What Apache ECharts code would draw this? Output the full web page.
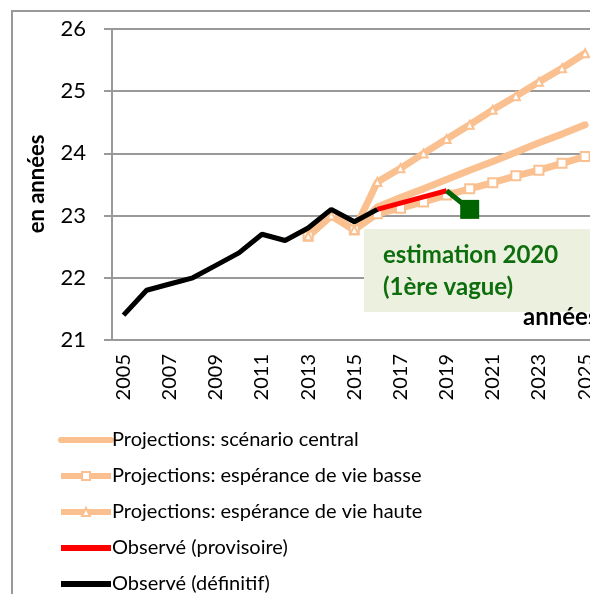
<!DOCTYPE html>
<html>
<head>
<meta charset="utf-8">
<script src="https://cdn.jsdelivr.net/npm/echarts@6/dist/echarts.min.js"></script>
<style>
  html, body { margin: 0; padding: 0; background: #fff; }
  #chart { width: 590px; height: 594px; }
</style>
</head>
<body>
<div id="chart"></div>
<script>
// years shown on the axis (the plot runs past the right edge)
const years = ['2005','2006','2007','2008','2009','2010','2011','2012','2013','2014','2015','2016','2017','2018','2019','2020','2021','2022','2023','2024','2025','2026','2027','2028','2029','2030'];

const observeDefinitif = [21.4, 21.8, 21.9, 22.0, 22.2, 22.4, 22.7, 22.6, 22.8, 23.1, 22.9, 23.1];
const observeProvisoire = [null, null, null, null, null, null, null, null, null, null, null, 23.1, 23.2, 23.3, 23.4];
const estimation2020 = [null, null, null, null, null, null, null, null, null, null, null, null, null, null, 23.4, 23.1];
const projCentral = [null, null, null, null, null, null, null, null, 22.67, 23.0, 22.77, 23.14, 23.29, 23.43, 23.58, 23.73, 23.87, 24.02, 24.17, 24.31, 24.46];
const projBasse = [null, null, null, null, null, null, null, null, 22.67, 23.0, 22.77, 23.03, 23.12, 23.22, 23.33, 23.43, 23.53, 23.64, 23.73, 23.84, 23.95];
const projHaute = [null, null, null, null, null, null, null, null, 22.67, 23.0, 22.77, 23.54, 23.76, 24.0, 24.23, 24.46, 24.7, 24.92, 25.15, 25.37, 25.61];

const peach = '#FAC090';
const font = 'Lato, "Noto Sans", sans-serif';

const chart = echarts.init(document.getElementById('chart'));
chart.setOption({
  animation: false,
  textStyle: { fontFamily: font },
  // the plot area runs past the right edge of the picture, like the source
  grid: { left: 112, top: 29, bottom: 254, width: 600, containLabel: false, outerBoundsMode: 'none' },
  legend: {
    orient: 'vertical',
    left: 58,
    top: 429,
    height: 300,
    padding: 0,
    itemWidth: 50,
    itemHeight: 10,
    itemGap: 14,
    lineStyle: { width: 6 },
    textStyle: { fontSize: 20, color: '#000', lineHeight: 22, padding: [0, 0, 0, -4] },
    data: [
      { name: 'Projections: scénario central', itemStyle: { opacity: 0 } },
      'Projections: espérance de vie basse',
      'Projections: espérance de vie haute',
      { name: 'Observé (provisoire)', itemStyle: { opacity: 0 } },
      { name: 'Observé (définitif)', itemStyle: { opacity: 0 } }
    ]
  },
  xAxis: {
    type: 'category',
    data: years,
    boundaryGap: true,
    axisLine: { lineStyle: { color: '#999', width: 2 } },
    axisTick: { interval: 4, length: 7, lineStyle: { color: '#999', width: 2 } },
    axisLabel: { interval: 1, rotate: 90, fontSize: 20, color: '#000', margin: 14 },
    splitLine: { show: false }
  },
  yAxis: {
    type: 'value',
    min: 21,
    max: 26,
    interval: 1,
    axisLine: { show: true, lineStyle: { color: '#999', width: 2 } },
    axisTick: { show: true, length: 8, lineStyle: { color: '#999', width: 2 } },
    axisLabel: { fontSize: 22, color: '#000', margin: 26 },
    splitLine: { lineStyle: { color: '#999', width: 2 } }
  },
  graphic: [
    { type: 'rect', z: 0, silent: true, shape: { x: 12, y: 11, width: 700, height: 700 },
      style: { fill: 'none', stroke: '#999', lineWidth: 2 } },
    { type: 'text', silent: true, x: 37, y: 184, rotation: Math.PI / 2,
      style: { text: 'en années', fontSize: 22, fontWeight: 'bold', fill: '#000', fontFamily: font,
        align: 'center', verticalAlign: 'middle' } },
    { type: 'rect', z: 50, silent: true, shape: { x: 364, y: 229, width: 240, height: 83 },
      style: { fill: '#EBF1DE' } },
    { type: 'text', z: 51, silent: true, x: 383, y: 239,
      style: { text: 'estimation 2020\n(1ère vague)', fontSize: 24, fontWeight: 'bold', fill: '#0E6E0E',
        fontFamily: font, lineHeight: 32 } },
    { type: 'text', z: 51, silent: true, x: 523, y: 305,
      style: { text: 'années', fontSize: 24, fontWeight: 'bold', fill: '#000', fontFamily: font } }
  ],
  series: [
    {
      name: 'Projections: scénario central', type: 'line', data: projCentral, z: 2,
      symbol: 'none', lineStyle: { color: peach, width: 7, cap: 'round' }, itemStyle: { color: peach }
    },
    {
      name: 'Projections: espérance de vie basse', type: 'line', data: projBasse, z: 2,
      symbol: 'rect', symbolSize: 9, showAllSymbol: true,
      lineStyle: { color: peach, width: 7 }, itemStyle: { color: '#fff', borderColor: peach, borderWidth: 2 }
    },
    {
      name: 'Projections: espérance de vie haute', type: 'line', data: projHaute, z: 2,
      symbol: 'triangle', symbolSize: 8, showAllSymbol: true,
      lineStyle: { color: peach, width: 7 }, itemStyle: { color: '#fff', borderColor: peach, borderWidth: 2 }
    },
    {
      name: 'Observé (provisoire)', type: 'line', data: observeProvisoire, z: 4,
      symbol: 'none', lineStyle: { color: '#FF0000', width: 5 }, itemStyle: { color: '#FF0000' }
    },
    {
      name: 'Observé (définitif)', type: 'line', data: observeDefinitif, z: 5,
      symbol: 'none', lineStyle: { color: '#000', width: 5 }, itemStyle: { color: '#000' }
    },
    {
      name: 'estimation 2020', type: 'line', z: 6,
      symbol: 'rect', symbolSize: 19, showAllSymbol: true,
      data: estimation2020.map(function (v, i) {
        return (v !== null && i === 14) ? { value: v, symbol: 'none' } : v;
      }),
      lineStyle: { color: '#006400', width: 5 }, itemStyle: { color: '#006400' }
    }
  ]
});
</script>
</body>
</html>
